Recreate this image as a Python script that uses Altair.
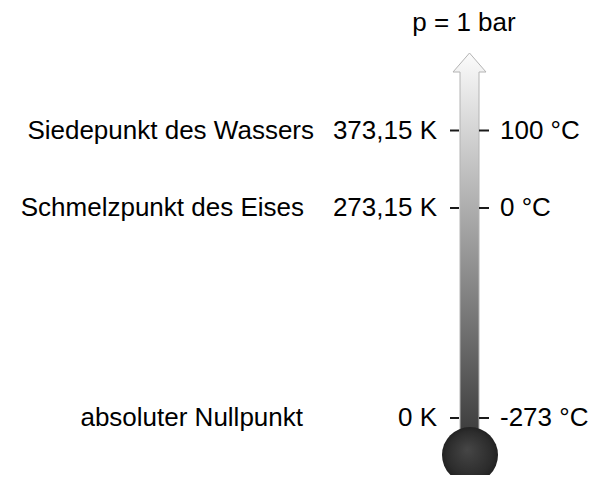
import altair as alt
import pandas as pd

# --- data ---
descriptions = ["Siedepunkt des Wassers", "Schmelzpunkt des Eises", "absoluter Nullpunkt"]
kelvin = [373.15, 273.15, 0.0]
kelvin_labels = ["373,15 K", "273,15 K", "0 K"]
celsius_labels = ["100 °C", "0 °C", "-273 °C"]
pressure_label = ["p = 1 bar"]

df = pd.DataFrame({
    "desc": descriptions,
    "K": kelvin,
    "klabel": kelvin_labels,
    "clabel": celsius_labels,
})

FONT = "Liberation Sans"
FS = 26

yscale = alt.Scale(domain=[0, 273.15, 373.15], range=[410, 200, 122.5])
Y = alt.Y("K:Q", scale=yscale, axis=None)

base = alt.Chart(df)

# thermometer decoration
deco = pd.DataFrame({"part": ["tube"]})
arrow_path = "M 0 -19 L 16.5 0 L 9.5 0 L 9.5 372 L -9.5 372 L -9.5 0 L -16.5 0 Z"
tube = alt.Chart(deco).mark_point(
    shape=arrow_path, size=4, filled=True, opacity=1,
    fill=alt.LinearGradient(
        gradient="linear",
        stops=[alt.GradientStop(color="#fbfbfb", offset=0),
               alt.GradientStop(color="#383838", offset=1)],
        x1=0, x2=0, y1=0, y2=1),
    stroke="#b4b4b4", strokeWidth=1,
).encode(x=alt.value(461.5), y=alt.value(64))

bulb = alt.Chart(deco).mark_point(
    shape="circle", size=3136, filled=True, opacity=1,
    fill=alt.RadialGradient(
        gradient="radial",
        stops=[alt.GradientStop(color="#464646", offset=0),
               alt.GradientStop(color="#2c2c2c", offset=0.8),
               alt.GradientStop(color="#222222", offset=1)],
        x1=0.45, y1=0.4, r1=0, x2=0.5, y2=0.5, r2=0.5),
    strokeWidth=0,
).encode(x=alt.value(462), y=alt.value(447))

tick_l = base.mark_rule(color="#1a1a1a", strokeWidth=2).encode(
    x=alt.value(442), x2=alt.value(451), y=Y)
tick_r = base.mark_rule(color="#1a1a1a", strokeWidth=2).encode(
    x=alt.value(471), x2=alt.value(481), y=Y)

def desc_layer(label, xpos):
    return base.transform_filter(alt.datum.desc == label).mark_text(
        align="right", baseline="middle", font=FONT, fontSize=FS, color="#000"
    ).encode(x=alt.value(xpos), y=Y, text="desc:N")

desc_layers = [
    desc_layer(descriptions[0], 306),
    desc_layer(descriptions[1], 296),
    desc_layer(descriptions[2], 295),
]

k_text = base.mark_text(align="right", baseline="middle", font=FONT,
                        fontSize=FS, color="#000").encode(
    x=alt.value(429), y=Y, text="klabel:N")
c_text = base.mark_text(align="left", baseline="middle", font=FONT,
                        fontSize=FS, color="#000").encode(
    x=alt.value(492), y=Y, text="clabel:N")

p_text = alt.Chart(pd.DataFrame({"t": pressure_label})).mark_text(
    align="center", baseline="middle", font=FONT, fontSize=FS, color="#000"
).encode(x=alt.value(456), y=alt.value(15), text="t:N")

chart = alt.layer(tube, bulb, tick_l, tick_r, *desc_layers, k_text, c_text, p_text).properties(
    width=585, height=467, padding=0,
    autosize=alt.AutoSizeParams(type="none"),
).configure_view(stroke=None)

chart.save("out.html", embed_options={"renderer": "svg", "actions": False})
